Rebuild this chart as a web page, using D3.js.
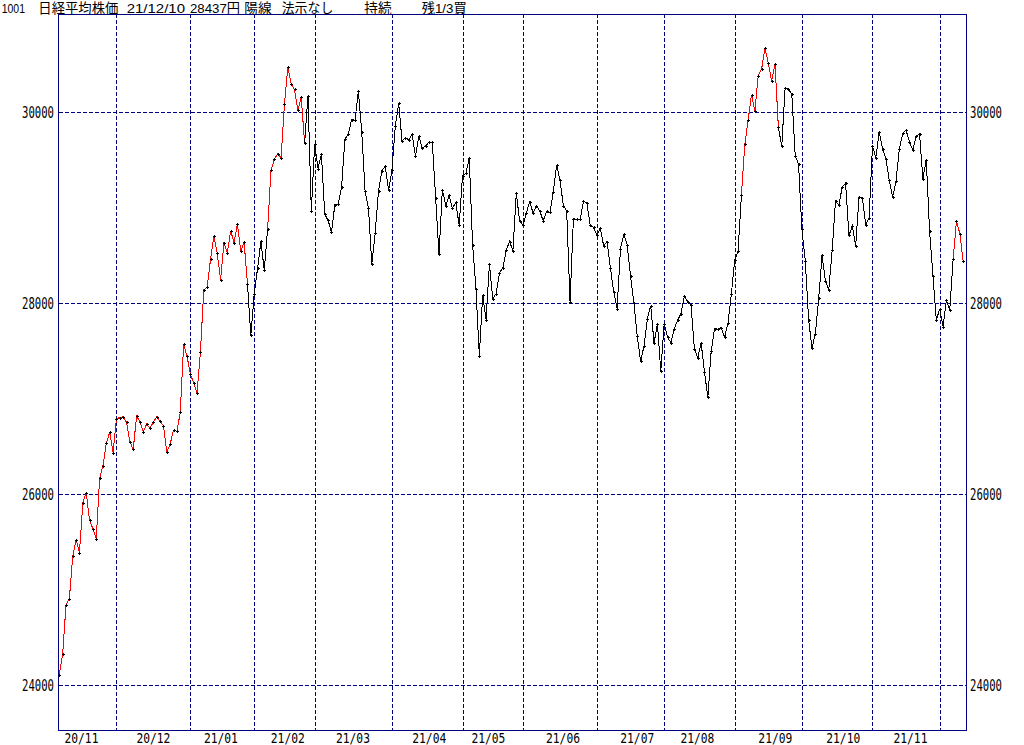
<!DOCTYPE html>
<html><head><meta charset="utf-8">
<script src="https://cdn.jsdelivr.net/npm/d3@7/dist/d3.min.js"></script>
<style>body{margin:0;background:#fff}svg{display:block}</style>
</head><body>
<script>
// ---- data ----
const closes = [
// 2020/11 (from 11/5)
24105.28,24325.23,24839.84,24905.59,25349.60,25520.88,25385.87,25906.93,26014.62,25728.14,25634.34,25527.37,26165.59,26296.86,26537.31,26644.71,26433.62,
// 2020/12
26787.54,26800.98,26809.37,26751.24,26547.44,26467.08,26817.94,26756.24,26652.52,26732.44,26687.84,26757.40,26806.67,26763.39,26714.42,26436.39,26524.79,26668.35,26656.61,26854.03,27568.15,27444.17,
// 2021/01
27258.38,27158.63,27055.94,27490.13,28139.03,28164.34,28456.59,28698.26,28519.18,28242.21,28633.46,28523.26,28756.86,28631.45,28822.29,28546.18,28635.21,28197.42,27663.39,
// 2021/02
28091.05,28362.17,28646.50,28341.95,28779.19,29388.50,29505.93,29562.93,29520.07,30084.15,30467.75,30292.19,30236.09,30017.92,30156.03,29671.70,30168.27,28966.01,
// 2021/03
29663.50,29408.17,29559.10,28930.11,28864.32,28743.25,29027.94,29036.56,29211.64,29717.83,29766.97,29921.09,29914.33,30216.75,29792.05,29174.15,28995.92,28405.52,28729.88,29176.70,29384.52,29432.70,29178.80,
// 2021/04
29388.87,29854.00,30089.25,29696.63,29730.79,29708.98,29768.06,29538.73,29751.61,29620.99,29642.69,29683.37,29685.37,29100.38,28508.55,29188.17,29020.63,29126.23,28991.89,29053.97,28812.63,
// 2021/05
29331.37,29357.82,29518.34,28608.59,28147.51,27448.01,28084.47,27824.83,28406.84,28044.45,28098.25,28317.83,28364.61,28553.98,28642.19,28549.01,29149.41,28860.08,
// 2021/06
28814.34,28946.14,29058.11,28941.52,29019.24,28963.56,28860.80,28958.56,28948.73,29161.80,29441.30,29291.01,29018.33,28964.08,28010.93,28884.13,28874.89,28875.23,29066.18,29048.02,28812.61,28791.53,
// 2021/07
28707.04,28783.28,28598.19,28643.21,28366.95,28118.03,27940.42,28569.02,28718.24,28608.49,28279.09,28003.08,27652.74,27388.16,27548.00,27833.29,27970.22,27581.66,27782.42,27283.59,
// 2021/08
27781.02,27641.83,27584.08,27728.12,27820.04,27888.15,28070.51,28015.02,27977.15,27523.19,27424.47,27585.91,27281.17,27013.25,27494.24,27732.10,27724.80,27742.29,27641.14,27789.29,28089.54,
// 2021/09
28451.02,28543.51,29128.11,29659.89,29916.14,30181.21,30008.19,30381.84,30447.37,30670.10,30511.71,30323.34,30500.05,29839.71,29639.40,30248.81,30240.06,30183.96,29544.29,29452.66,
// 2021/10
28771.07,28444.89,27822.12,27528.87,27678.21,28048.94,28498.20,28230.61,28140.28,28550.93,29068.63,29025.46,29215.52,29255.55,28708.58,28804.85,28600.41,29106.01,29098.24,28820.09,28892.69,
// 2021/11
29647.08,29520.90,29794.37,29611.57,29507.05,29285.46,29106.78,29277.86,29609.97,29776.80,29808.12,29688.33,29598.66,29745.87,29774.11,29302.66,29499.28,28751.62,28283.92,27821.76,
// 2021/12
27935.62,27753.37,28029.57,27927.37,28455.60,28860.62,28725.47,28437.77
];
const monthLabels = ["20/11","20/12","21/01","21/02","21/03","21/04","21/05","21/06","21/07","21/08","21/09","21/10","21/11"];
const monthDays = [17,22,19,18,23,21,18,22,20,21,20,21,20,8];
const monthTickPos = [6.6,28,48.1,68,87.4,110.1,127.7,149.9,172,189.9,213.1,233.3,253.3];
const holdRuns = [[0,55],[62,72],[203,213],[266,269]];
const yTicks = [24000,26000,28000,30000];
const titleTexts = ["1001","日経平均株価","21/12/10","28437円","陽線","法示なし","持続","残1/3買"];

// ---- layout ----
const W = 1024, H = 745;
const L = 59, R = 966, T = 14, B = 730;
const NAVY = "#000080";
const svg = d3.select("body").append("svg").attr("width", W).attr("height", H);
svg.append("rect").attr("width", W).attr("height", H).attr("fill", "#fff");

const x = d3.scaleLinear().domain([0, closes.length - 1]).range([59.3, 963.2]);
const y = d3.scaleLinear().domain([24000, 30000]).range([685, 112]);
const px = v => Math.round(v) + 0.5;

// title
const titleLayout = [[1.7,23.3],[38.3,80],[126.7,58.3],[190,50],[244.3,27.3],[281.7,51.7],[364.3,27.3],[421.7,45]];
svg.append("g").selectAll("text").data(titleTexts).join("text")
  .attr("x", (d,i) => titleLayout[i][0]).attr("y", 12.8)
  .attr("textLength", (d,i) => titleLayout[i][1]).attr("lengthAdjust", "spacingAndGlyphs")
  .attr("font-family", "'Liberation Sans', 'Noto Sans CJK JP', sans-serif").attr("font-size", 13.5)
  .attr("fill", "#000").text(d => d);

// grid
const grid = svg.append("g").attr("stroke", NAVY).attr("stroke-width", 1)
  .attr("stroke-dasharray", "4,2").attr("shape-rendering", "crispEdges");
grid.selectAll("line.h").data(yTicks).join("line").attr("class", "h")
  .attr("x1", L).attr("x2", R).attr("y1", d => px(y(d))).attr("y2", d => px(y(d)));
const starts = d3.cumsum(monthDays).slice(0, -1);
grid.selectAll("line.v").data(starts).join("line").attr("class", "v")
  .attr("x1", d => px(x(d))).attr("x2", d => px(x(d))).attr("y1", T).attr("y2", B);

// axis labels
const labFont = "'DejaVu Sans Mono', monospace";
const axL = svg.append("g").attr("font-family", labFont).attr("fill", "#000");
axL.selectAll("text.l").data(yTicks).join("text").attr("class", "l")
  .attr("font-size", 15)
  .attr("x", 54).attr("y", d => y(d) + 5.5).attr("text-anchor", "end")
  .attr("textLength", 32).attr("lengthAdjust", "spacingAndGlyphs").text(d => d);
axL.selectAll("text.r").data(yTicks).join("text").attr("class", "r")
  .attr("font-size", 15)
  .attr("x", 970).attr("y", d => y(d) + 5.5)
  .attr("textLength", 32).attr("lengthAdjust", "spacingAndGlyphs").text(d => d);
axL.selectAll("text.m").data(monthLabels).join("text").attr("class", "m")
  .attr("font-size", 14)
  .attr("x", (d,i) => x(monthTickPos[i])).attr("y", 742.5).attr("text-anchor", "middle")
  .attr("textLength", 34).attr("lengthAdjust", "spacingAndGlyphs").text(d => d);

// frame
svg.append("rect").attr("x", L - 0.5).attr("y", T + 0.5).attr("width", R - L + 1).attr("height", B - T - 0.5)
  .attr("fill", "none").attr("stroke", NAVY).attr("stroke-width", 1).attr("shape-rendering", "crispEdges");

// line: segment i->i+1 coloured by the state of point i
const isHold = i => holdRuns.some(([a,b]) => i >= a && i <= b);
const runs = [];
for (let i = 0; i < closes.length - 1; i++) {
  const c = isHold(i) ? "#ff0000" : "#000000";
  if (!runs.length || runs[runs.length - 1].c !== c) runs.push({c, pts: [i]});
  runs[runs.length - 1].pts.push(i + 1);
}
const lineGen = d3.line().x(i => x(i)).y(i => y(closes[i]));
svg.append("g").selectAll("path").data(runs).join("path")
  .attr("d", d => lineGen(d.pts)).attr("fill", "none").attr("stroke", d => d.c)
  .attr("stroke-width", 1).attr("shape-rendering", "crispEdges");

// markers
svg.append("g").selectAll("path").data(closes).join("path")
  .attr("d", (v,i) => {
    const cx = Math.round(x(i)), cy = Math.round(y(v));
    return `M${cx-1},${cy+0.5}h3M${cx+0.5},${cy-1}v3`;
  })
  .attr("stroke", "#000").attr("stroke-width", 1).attr("fill", "none").attr("shape-rendering", "crispEdges");
</script>
</body></html>
